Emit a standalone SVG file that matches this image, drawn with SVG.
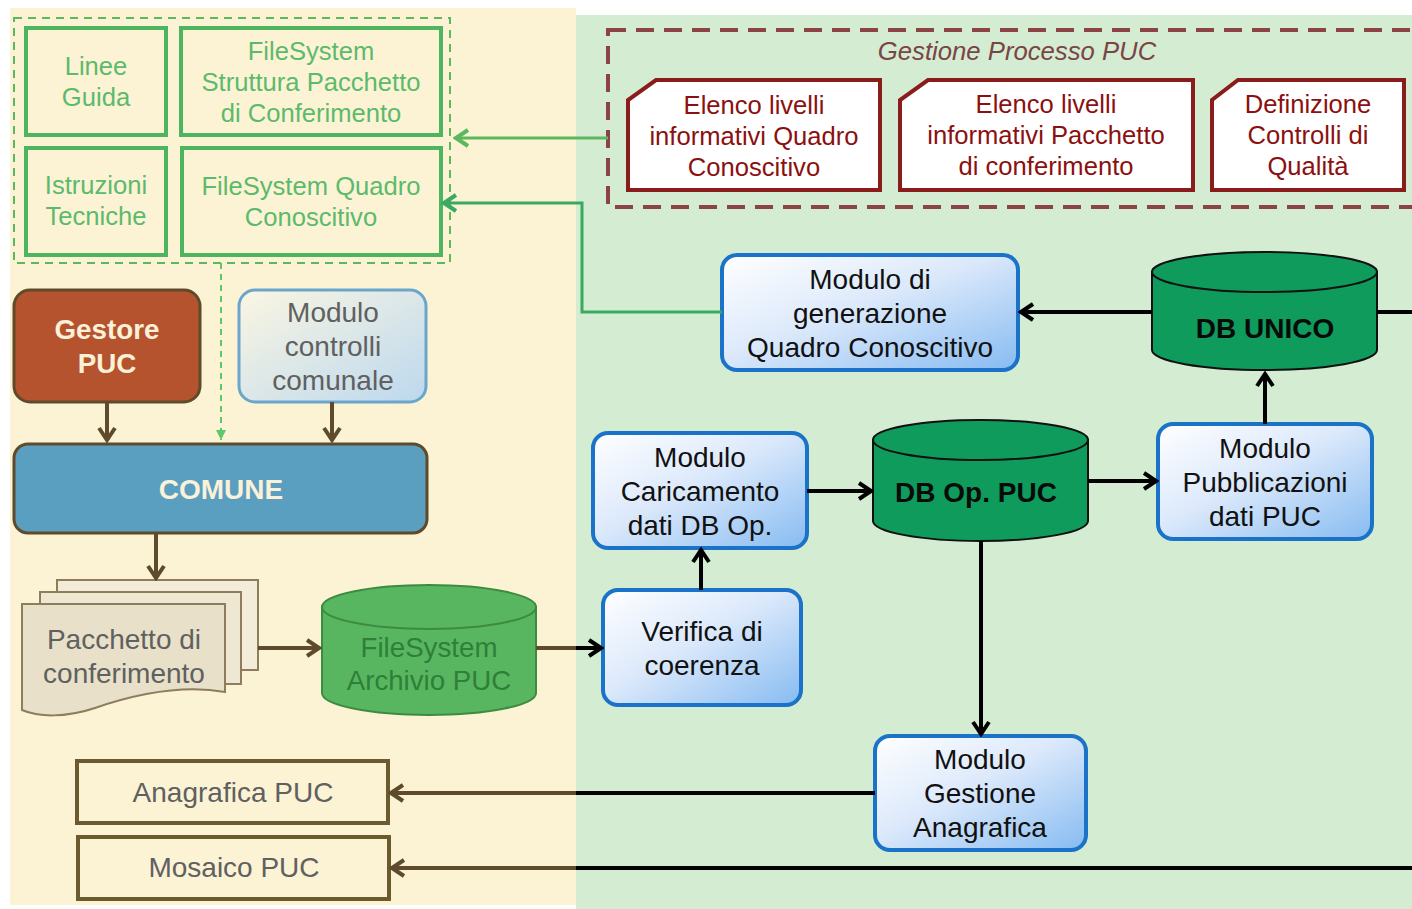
<svg xmlns="http://www.w3.org/2000/svg" width="1412" height="909" viewBox="0 0 1412 909">
<defs>
<linearGradient id="gBlue" x1="0" y1="0" x2="1" y2="1">
<stop offset="0" stop-color="#ffffff"/><stop offset="0.45" stop-color="#dce9fb"/><stop offset="1" stop-color="#86bbf1"/>
</linearGradient>
<linearGradient id="gPale" x1="0" y1="0" x2="1" y2="1">
<stop offset="0" stop-color="#fbf6e2"/><stop offset="1" stop-color="#bcd8ee"/>
</linearGradient>
<marker id="aBrown" viewBox="0 0 20 20" refX="17" refY="10" markerWidth="20" markerHeight="20" orient="auto" markerUnits="userSpaceOnUse">
<path d="M5,2 L17,10 L5,18" fill="none" stroke="#5e4b2b" stroke-width="4" stroke-linejoin="miter"/>
</marker>
<marker id="aBlack" viewBox="0 0 20 20" refX="17" refY="10" markerWidth="20" markerHeight="20" orient="auto" markerUnits="userSpaceOnUse">
<path d="M5,2 L17,10 L5,18" fill="none" stroke="#000" stroke-width="4"/>
</marker>
<marker id="aGreen" viewBox="0 0 20 20" refX="17" refY="10" markerWidth="20" markerHeight="20" orient="auto" markerUnits="userSpaceOnUse">
<path d="M5,2 L17,10 L5,18" fill="none" stroke="#5cb85c" stroke-width="4"/>
</marker>
<marker id="aGreenD" viewBox="0 0 20 20" refX="17" refY="10" markerWidth="20" markerHeight="20" orient="auto" markerUnits="userSpaceOnUse">
<path d="M5,2 L17,10 L5,18" fill="none" stroke="#3aaa62" stroke-width="4"/>
</marker>
<marker id="aGreenS" viewBox="0 0 12 12" refX="11" refY="6" markerWidth="12" markerHeight="12" orient="auto" markerUnits="userSpaceOnUse">
<path d="M1,1 L11,6 L1,11 Z" fill="#5cc86a"/>
</marker>
<style>
text{font-family:"Liberation Sans",Arial,sans-serif;text-anchor:middle}
.gbox{fill:none;stroke:#4db560;stroke-width:4}
.gtxt{fill:#5cba6c;font-size:25.6px}
.doc{fill:#fff;stroke:#8b1c1c;stroke-width:4}
.rtxt{fill:#8b1010;font-size:25.6px}
.blue{fill:url(#gBlue);stroke:#1a72c9;stroke-width:4}
.btxt{fill:#111;font-size:28px}
.cyl{fill:#0e9b5c;stroke:#111;stroke-width:2}
.cyltxt{fill:#0a0a0a;font-size:28px;font-weight:bold}
.brown{stroke:#5e4b2b;stroke-width:4;fill:none}
.black{stroke:#000;stroke-width:4;fill:none}
.rect2{fill:#fcf3d5;stroke:#6b5a2e;stroke-width:4}
.ptxt{fill:#606060;font-size:28px}
</style>
</defs>
<rect x="0" y="0" width="1412" height="909" fill="#ffffff"/>
<rect x="10" y="8" width="566" height="897" fill="#fcf3d5"/>
<rect x="576" y="15" width="836" height="894" fill="#d4ecd2"/>

<g id="frame-left">
<rect x="14" y="18" width="436" height="245" fill="none" stroke="#5cb85c" stroke-width="2" stroke-dasharray="8,6"/>
</g>
<g id="linee-guida">
<rect class="gbox" x="26" y="28" width="140" height="107"/>
<text class="gtxt" x="96" y="75">Linee</text><text class="gtxt" x="96" y="106">Guida</text>
</g>
<g id="fs-struttura">
<rect class="gbox" x="181" y="28" width="260" height="107"/>
<text class="gtxt" x="311" y="60">FileSystem</text><text class="gtxt" x="311" y="91">Struttura Pacchetto</text><text class="gtxt" x="311" y="122">di Conferimento</text>
</g>
<g id="istruzioni">
<rect class="gbox" x="26" y="148" width="140" height="107"/>
<text class="gtxt" x="96" y="194">Istruzioni</text><text class="gtxt" x="96" y="225">Tecniche</text>
</g>
<g id="fs-quadro">
<rect class="gbox" x="182" y="148" width="259" height="107"/>
<text class="gtxt" x="311" y="195">FileSystem Quadro</text><text class="gtxt" x="311" y="226">Conoscitivo</text>
</g>

<g id="gestione-processo">
<rect x="608" y="30" width="820" height="177" fill="none" stroke="#8b4343" stroke-width="4" stroke-dasharray="18,10"/>
<text x="1017" y="60" font-size="25.7" font-style="italic" fill="#7a4545">Gestione Processo PUC</text>
</g>
<g id="doc-quadro">
<path class="doc" d="M656,80 H880 V190 H628 V100 Z"/>
<text class="rtxt" x="754" y="114">Elenco livelli</text><text class="rtxt" x="754" y="145">informativi Quadro</text><text class="rtxt" x="754" y="176">Conoscitivo</text>
</g>
<g id="doc-pacchetto">
<path class="doc" d="M928,80 H1193 V190 H900 V100 Z"/>
<text class="rtxt" x="1046" y="113">Elenco livelli</text><text class="rtxt" x="1046" y="144">informativi Pacchetto</text><text class="rtxt" x="1046" y="175">di conferimento</text>
</g>
<g id="doc-controlli">
<path class="doc" d="M1238,80 H1404 V190 H1212 V100 Z"/>
<text class="rtxt" x="1308" y="113">Definizione</text><text class="rtxt" x="1308" y="144">Controlli di</text><text class="rtxt" x="1308" y="175">Qualità</text>
</g>

<g id="gestore-puc">
<rect x="14" y="290" width="186" height="112" rx="16" fill="#b5532f" stroke="#5e4b2b" stroke-width="3"/>
<text x="107" y="339" font-size="27.8" font-weight="bold" fill="#fbf0d8">Gestore</text><text x="107" y="373" font-size="27.8" font-weight="bold" fill="#fbf0d8">PUC</text>
</g>
<g id="modulo-controlli">
<rect x="239" y="290" width="187" height="112" rx="16" fill="url(#gPale)" stroke="#6aa6cc" stroke-width="3"/>
<text class="ptxt" x="333" y="322">Modulo</text><text class="ptxt" x="333" y="356">controlli</text><text class="ptxt" x="333" y="390">comunale</text>
</g>
<g id="comune">
<rect x="14" y="444" width="413" height="89" rx="14" fill="#5a9fc0" stroke="#5e4b2b" stroke-width="3"/>
<text x="221" y="499" font-size="28" font-weight="bold" fill="#fbf0d8">COMUNE</text>
</g>
<g id="pacchetto">
<rect x="57" y="580" width="201" height="90" fill="#f2ecd8" stroke="#8d7d5d" stroke-width="2"/>
<rect x="40" y="592" width="201" height="92" fill="#eee7d2" stroke="#8d7d5d" stroke-width="2"/>
<path d="M22,604 H225 V692 C180,684 130,696 95,708 C65,718 38,717 22,710 Z" fill="#e8e0c8" stroke="#8d7d5d" stroke-width="2"/>
<text class="ptxt" x="124" y="649">Pacchetto di</text><text class="ptxt" x="124" y="683">conferimento</text>
</g>
<g id="fs-archivio">
<path d="M322,607 V693 A107,22 0 0 0 536,693 V607 Z" fill="#58b660" stroke="#3c8c40" stroke-width="2"/>
<ellipse cx="429" cy="607" rx="107" ry="22" fill="#58b660" stroke="#3c8c40" stroke-width="2"/>
<text x="429" y="657" font-size="27.7" fill="#2f7f38">FileSystem</text><text x="429" y="690" font-size="27.7" fill="#2f7f38">Archivio PUC</text>
</g>

<g id="modulo-generazione">
<rect class="blue" x="722" y="255" width="296" height="115" rx="15"/>
<text class="btxt" x="870" y="289">Modulo di</text><text class="btxt" x="870" y="323">generazione</text><text class="btxt" x="870" y="357">Quadro Conoscitivo</text>
</g>
<g id="db-unico">
<path class="cyl" d="M1152,272 V350 A112.5,20 0 0 0 1377,350 V272 Z"/>
<ellipse class="cyl" cx="1264.5" cy="272" rx="112.5" ry="20"/>
<text class="cyltxt" x="1265" y="338">DB UNICO</text>
</g>
<g id="modulo-caricamento">
<rect class="blue" x="593" y="433" width="214" height="115" rx="15"/>
<text class="btxt" x="700" y="467">Modulo</text><text class="btxt" x="700" y="501">Caricamento</text><text class="btxt" x="700" y="535">dati DB Op.</text>
</g>
<g id="db-op">
<path class="cyl" d="M873,440 V521 A107.5,20 0 0 0 1088,521 V440 Z"/>
<ellipse class="cyl" cx="980.5" cy="440" rx="107.5" ry="20"/>
<text class="cyltxt" x="976" y="502">DB Op. PUC</text>
</g>
<g id="modulo-pubblicazioni">
<rect class="blue" x="1158" y="424" width="214" height="115" rx="15"/>
<text class="btxt" x="1265" y="458">Modulo</text><text class="btxt" x="1265" y="492">Pubblicazioni</text><text class="btxt" x="1265" y="526">dati PUC</text>
</g>
<g id="verifica">
<rect class="blue" x="603" y="590" width="198" height="115" rx="15"/>
<text class="btxt" x="702" y="641">Verifica di</text><text class="btxt" x="702" y="675">coerenza</text>
</g>
<g id="modulo-anagrafica">
<rect class="blue" x="875" y="736" width="211" height="114" rx="15"/>
<text class="btxt" x="980" y="769">Modulo</text><text class="btxt" x="980" y="803">Gestione</text><text class="btxt" x="980" y="837">Anagrafica</text>
</g>
<g id="anagrafica-puc">
<rect class="rect2" x="77" y="761" width="311" height="62"/>
<text class="ptxt" x="233" y="802">Anagrafica PUC</text>
</g>
<g id="mosaico-puc">
<rect class="rect2" x="78" y="837" width="311" height="62"/>
<text class="ptxt" x="234" y="877">Mosaico PUC</text>
</g>

<g id="connectors">
<line x1="608" y1="138" x2="456" y2="138" stroke="#5cb85c" stroke-width="3" marker-end="url(#aGreen)"/>
<polyline points="722,312 582,312 582,203 444,203" fill="none" stroke="#3aaa62" stroke-width="3" marker-end="url(#aGreenD)"/>
<line x1="221" y1="263" x2="221" y2="440" stroke="#5cc86a" stroke-width="2" stroke-dasharray="6,5" marker-end="url(#aGreenS)"/>
<line class="brown" x1="107" y1="402" x2="107" y2="440" marker-end="url(#aBrown)"/>
<line class="brown" x1="332" y1="402" x2="332" y2="440" marker-end="url(#aBrown)"/>
<line class="brown" x1="156" y1="533" x2="156" y2="578" marker-end="url(#aBrown)"/>
<line class="brown" x1="258" y1="648" x2="319" y2="648" marker-end="url(#aBrown)"/>
<line class="brown" x1="536" y1="648" x2="578" y2="648"/>
<line class="black" x1="576" y1="648" x2="601" y2="648" marker-end="url(#aBlack)"/>
<line class="black" x1="1152" y1="312" x2="1021" y2="312" marker-end="url(#aBlack)"/>
<line class="black" x1="1377" y1="312" x2="1412" y2="312"/>
<line class="black" x1="807" y1="491" x2="871" y2="491" marker-end="url(#aBlack)"/>
<line class="black" x1="1088" y1="481" x2="1156" y2="481" marker-end="url(#aBlack)"/>
<line class="black" x1="1265" y1="424" x2="1265" y2="374" marker-end="url(#aBlack)"/>
<line class="black" x1="701" y1="590" x2="701" y2="550" marker-end="url(#aBlack)"/>
<line class="black" x1="981" y1="541" x2="981" y2="734" marker-end="url(#aBlack)"/>
<line class="black" x1="875" y1="793" x2="574" y2="793"/>
<line class="brown" x1="576" y1="793" x2="391" y2="793" marker-end="url(#aBrown)"/>
<line class="black" x1="1412" y1="868" x2="574" y2="868"/>
<line class="brown" x1="576" y1="868" x2="392" y2="868" marker-end="url(#aBrown)"/>
</g>
</svg>
